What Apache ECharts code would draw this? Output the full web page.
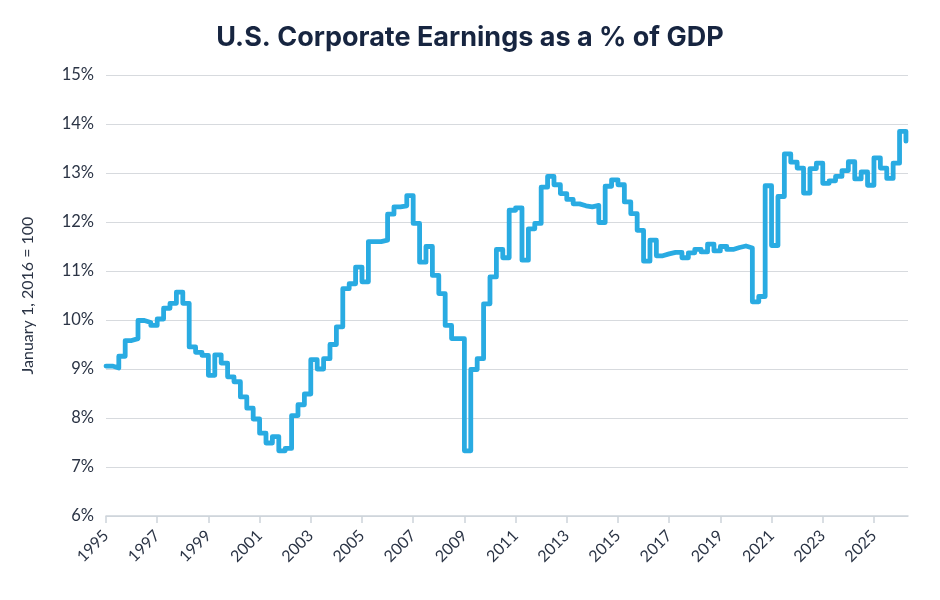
<!DOCTYPE html>
<html>
<head>
<meta charset="utf-8">
<title>U.S. Corporate Earnings as a % of GDP</title>
<script src="https://cdn.jsdelivr.net/npm/echarts@6/dist/echarts.min.js"></script>
<style>
  html, body {margin: 0; padding: 0; background: #fff;}
  #chart {width: 940px; height: 600px;}
</style>
</head>
<body>
<div id="chart"></div>
<script>
// quarterly series, first value = 1995 Q1
const startYear = 1995
const earningsPct = [
  9.06, 9.02, 9.26, 9.58, 9.62, 9.99, 9.95, 9.89, 10.02, 10.24,
  10.34, 10.57, 10.34, 9.45, 9.34, 9.28, 8.87, 9.29, 9.12, 8.84,
  8.74, 8.43, 8.20, 7.98, 7.69, 7.49, 7.62, 7.33, 7.38, 8.05,
  8.27, 8.49, 9.19, 9.00, 9.21, 9.50, 9.86, 10.64, 10.74, 11.08,
  10.78, 11.60, 11.60, 11.63, 12.16, 12.31, 12.33, 12.54, 11.97, 11.18,
  11.50, 10.91, 10.54, 9.89, 9.62, 9.62, 7.33, 8.99, 9.21, 10.33,
  10.88, 11.44, 11.27, 12.24, 12.29, 11.22, 11.86, 11.97, 12.71, 12.93,
  12.76, 12.58, 12.46, 12.37, 12.33, 12.31, 12.34, 11.99, 12.73, 12.86,
  12.76, 12.41, 12.17, 11.83, 11.20, 11.63, 11.31, 11.35, 11.38, 11.38,
  11.27, 11.37, 11.44, 11.39, 11.55, 11.41, 11.50, 11.44, 11.48, 11.51,
  11.47, 10.37, 10.48, 12.74, 11.52, 12.52, 13.39, 13.22, 13.10, 12.59,
  13.09, 13.20, 12.79, 12.84, 12.93, 13.05, 13.23, 12.88, 13.02, 12.75,
  13.31, 13.10, 12.89, 13.20, 13.85, 13.65
]
const yearTicks = [1995, 1997, 1999, 2001, 2003, 2005, 2007, 2009, 2011, 2013, 2015, 2017, 2019, 2021, 2023, 2025]

const textColor = '#2b3445'
const gridColor = '#d7dade'
const font = 'Lato, "Noto Sans", sans-serif'

const seriesData = earningsPct.map((v, i) => [startYear + i / 4, v])

const option = {
  animation: false,
  title: {
    text: 'U.S. Corporate Earnings as a % of GDP',
    left: 'center',
    top: 19,
    textStyle: {
      fontFamily: 'Inter, Lato, sans-serif',
      fontSize: 27,
      fontWeight: 'bold',
      color: '#172540'
    }
  },
  grid: {
    left: 106,
    right: 32,
    top: 75,
    bottom: 84
  },
  xAxis: {
    type: 'value',
    min: 1995,
    max: 2026.33,
    axisLine: {
      show: true,
      lineStyle: {color: '#cdd3da', width: 1.5}
    },
    axisTick: {
      show: true,
      customValues: yearTicks,
      length: 7,
      lineStyle: {color: '#cdd3da', width: 1.5}
    },
    axisLabel: {
      customValues: yearTicks,
      rotate: 45,
      margin: 17,
      fontFamily: font,
      fontSize: 16,
      color: textColor,
      formatter: v => String(Math.round(v))
    },
    splitLine: {show: false}
  },
  yAxis: {
    type: 'value',
    min: 6,
    max: 15,
    interval: 1,
    name: 'January 1, 2016 = 100',
    nameLocation: 'middle',
    nameGap: 70,
    nameTextStyle: {
      fontFamily: font,
      fontSize: 16,
      color: textColor
    },
    axisLine: {show: false},
    axisTick: {show: false},
    axisLabel: {
      formatter: '{value}%',
      margin: 12,
      fontFamily: font,
      fontSize: 16.5,
      color: textColor
    },
    splitLine: {
      lineStyle: {color: gridColor, width: 1.2}
    }
  },
  series: [
    {
      type: 'line',
      step: 'end',
      data: seriesData,
      showSymbol: false,
      lineStyle: {
        color: '#29abe2',
        width: 4.8,
        cap: 'round',
        join: 'round'
      }
    }
  ]
}

const chart = echarts.init(document.getElementById('chart'))
chart.setOption(option)
</script>
</body>
</html>
